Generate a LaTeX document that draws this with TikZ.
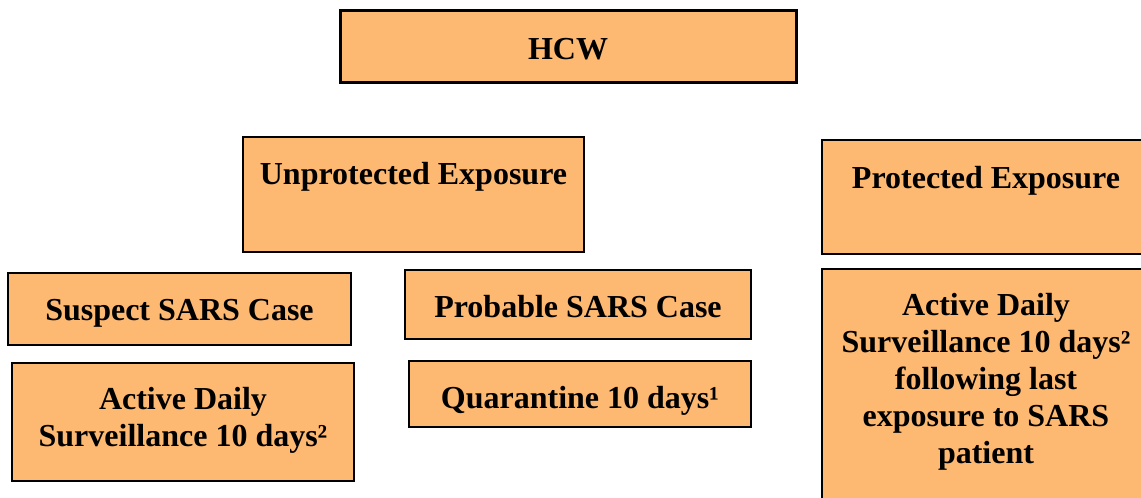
\documentclass[tikz,border=0pt]{standalone}
\usepackage{fontspec}
\setmainfont{Liberation Serif}
\definecolor{boxfill}{RGB}{253,184,113}
\tikzset{
  box/.style={draw=black, fill=boxfill, line width=1.2pt},
  thickbox/.style={draw=black, fill=boxfill, line width=3pt},
  txt/.style={font=\fontsize{32}{37}\selectfont\bfseries, align=center, inner sep=0pt, anchor=base},
}
\begin{document}
\begin{tikzpicture}[x=1pt,y=-1pt]
\useasboundingbox (0,0) rectangle (1141,498);
\clip (0,0) rectangle (1141,498);
% boxes
\draw[thickbox] (340,10) rectangle (796,82) coordinate (hcwbr);
\draw[box] (243,137) rectangle (584,252);
\draw[box] (822,140) rectangle (1160,254);
\draw[box] (8,273) rectangle (351,345);
\draw[box] (405,270) rectangle (751,339);
\draw[box] (12,363) rectangle (354,481);
\draw[box] (409,361) rectangle (751,427);
\draw[box] (822,269) rectangle (1160,520);
% texts
\node[txt] (hcw) at (568,59) {HCW};
\node[txt] (unprot) at (413.5,184) {Unprotected Exposure};
\node[txt] (prot) at (986,188) {Protected Exposure};
\node[txt] (suspect) at (179.5,320) {Suspect SARS Case};
\node[txt] (probable) at (578,317) {Probable SARS Case};
\node[txt] (adsl) at (183,446) {Active Daily\\Surveillance 10 days²};
\node[txt] (quar) at (580,408) {Quarantine 10 days¹};
\node[txt] (adsr) at (986,463) {Active Daily\\Surveillance 10 days²\\following last\\exposure to SARS\\patient};
\end{tikzpicture}
\end{document}
